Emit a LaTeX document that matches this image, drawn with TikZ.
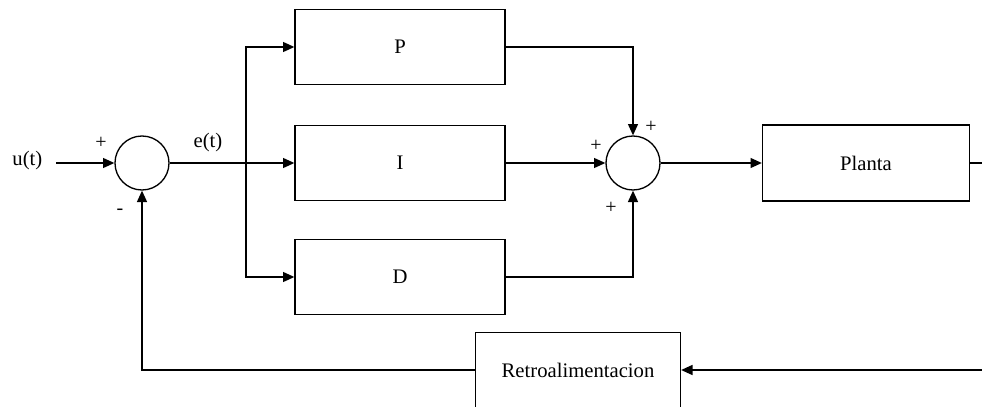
\documentclass[tikz,border=0pt]{standalone}
\usepackage{fontspec}
\setmainfont{Liberation Serif}
\usetikzlibrary{arrows.meta, positioning, calc}

\tikzset{
  block/.style={draw, line width=1pt, minimum width=157.5pt, minimum height=56.25pt, font=\fontsize{15.5}{18}\selectfont},
  sumnode/.style={draw, circle, line width=1pt, minimum size=40.5pt, inner sep=0pt},
  sig/.style={line width=1pt, -{Triangle[length=8.5pt, width=7.5pt]}},
  wire/.style={line width=1pt},
  sign/.style={font=\fontsize{15}{17}\selectfont, inner sep=0pt}
}

\begin{document}
\begin{tikzpicture}[x=0.75pt, y=-0.75pt]
\useasboundingbox (0,0) rectangle (982,407);

% summing junctions
\node[sumnode] (sumA) at (142,163) {};
\node[sumnode] (sumB) at (633,163) {};

% controller branches
\node[block] (bP) at (400,47) {P};
\node[block] (bI) at (400,163) {I};
\node[block] (bD) at (400,277) {D};

\node[block, minimum width=155.25pt, minimum height=57pt] (plant) at (866,163) {Planta};
\node[block, minimum width=153.75pt] (retro) at (578,370) {Retroalimentacion};

% input and signals
\node[font=\fontsize{15.5}{18}\selectfont, anchor=east] (uin) at (47,161) {u(t)};
\node[font=\fontsize{15.5}{18}\selectfont] (err) at (208,143) {e(t)};
\coordinate (ustart) at (56,163);
\coordinate (split) at (246,163);
\coordinate (yout) at (982,163);
\coordinate (yfb) at (982,370);

\draw[sig] (ustart) -- (sumA.west);
\draw[wire] (sumA.east) -- (split);
\draw[sig] (split) -- (bI.west);
\draw[sig] (split) |- (bP.west);
\draw[sig] (split) |- (bD.west);

\draw[sig] (bP.east) -| (sumB.north);
\draw[sig] (bI.east) -- (sumB.west);
\draw[sig] (bD.east) -| (sumB.south);

\draw[sig] (sumB.east) -- (plant.west);
\draw[wire] (plant.east) -- (yout);

% feedback
\draw[sig] (yfb) -- (retro.east);
\draw[sig] (retro.west) -| (sumA.south);

% signs
\node[sign] (sA1) at (101,143) {+};
\node[sign] (sA2) at (120,212) {-};
\node[sign] (sB1) at (651,127) {+};
\node[sign] (sB2) at (596,146) {+};
\node[sign] (sB3) at (611,208) {+};
\end{tikzpicture}
\end{document}
